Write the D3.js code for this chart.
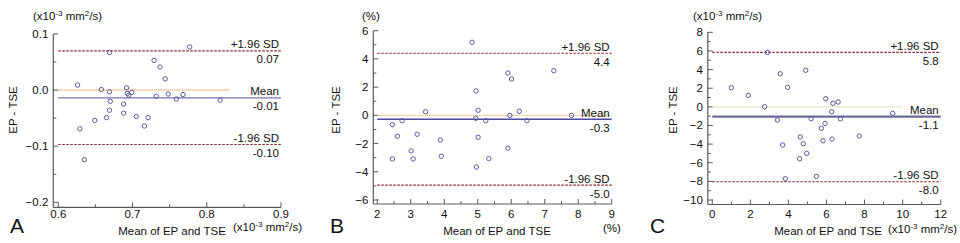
<!DOCTYPE html>
<html>
<head>
<meta charset="utf-8">
<script src="https://cdn.jsdelivr.net/npm/d3@7"></script>
<style>
  body { margin: 0; background: #fff; }
  svg { display: block; font-family: "Liberation Sans", Arial, sans-serif; }
</style>
</head>
<body>
<div id="chart"></div>
<script>
// Panel A: ADC (x10^-3 mm2/s)
const aMean = [0.669, 0.777, 0.729, 0.737, 0.744, 0.626, 0.658, 0.669, 0.692, 0.693, 0.695, 0.699, 0.732, 0.748,
  0.759, 0.768, 0.818, 0.670, 0.688, 0.669, 0.688, 0.665, 0.649, 0.705, 0.721, 0.716, 0.629, 0.635];
const aDiff = [0.067, 0.077, 0.053, 0.041, 0.020, 0.009, 0.001, -0.003, 0.004, -0.006, -0.009, -0.004, -0.011, -0.007,
  -0.016, -0.008, -0.018, -0.020, -0.025, -0.036, -0.041, -0.049, -0.054, -0.047, -0.049, -0.064, -0.069, -0.124];
const aLines = [0.070, -0.0137, -0.097];          // +1.96 SD, mean, -1.96 SD
const aLineLabels = ["0.07", "-0.01", "-0.10"];
const aXTicks = [0.6, 0.7, 0.8, 0.9];
const aYTicks = [0.1, 0.0, -0.1, -0.2];

// Panel B: percentage (%)
const bMean = [4.83, 7.27, 5.90, 6.01, 4.95, 3.44, 5.01, 6.24, 7.80, 5.96, 4.94, 2.74, 5.24, 6.47, 2.45, 2.60,
  3.19, 3.88, 5.01, 5.90, 3.01, 2.45, 3.07, 3.91, 5.33, 4.96];
const bDiff = [5.18, 3.17, 3.00, 2.58, 1.73, 0.26, 0.36, 0.29, 0.0, 0.0, -0.21, -0.38, -0.38, -0.38, -0.66, -1.48,
  -1.34, -1.74, -1.55, -2.33, -2.52, -3.09, -3.09, -2.90, -3.07, -3.66];
const bLines = [4.40, -0.27, -4.95];
const bLineLabels = ["4.4", "-0.3", "-5.0"];
const bXTicks = [2, 3, 4, 5, 6, 7, 8, 9];
const bYTicks = [6, 4, 2, 0, -2, -4, -6];

// Panel C: (x10^-3 mm2/s)
const cMean = [2.89, 3.57, 4.91, 1.00, 3.96, 1.89, 2.75, 5.96, 6.61, 6.34, 6.27, 9.48, 3.42, 5.19, 6.73, 5.92,
  5.73, 4.62, 7.72, 6.29, 5.82, 4.78, 3.70, 4.96, 4.59, 5.47, 3.84];
const cDiff = [5.85, 3.55, 3.92, 2.05, 2.09, 1.23, 0.01, 0.87, 0.52, 0.38, -0.53, -0.70, -1.42, -1.28, -1.28, -1.77,
  -2.31, -3.24, -3.13, -3.46, -3.64, -3.96, -4.10, -4.99, -5.57, -7.46, -7.72];
const cLines = [5.85, -1.06, -8.04];
const cLineLabels = ["5.8", "-1.1", "-8.0"];
const cXTicks = [0, 2, 4, 6, 8, 10, 12];
const cYTicks = [8, 6, 4, 2, 0, -2, -4, -6, -8, -10];

const panels = [
  { letter: "A", xs: aMean, ys: aDiff, lines: aLines, labels: aLineLabels, xTicks: aXTicks, yTicks: aYTicks,
    xRange: [58.3, 281], yRange: [202.3, 34], fmtX: d3.format(".1f"), fmtY: d3.format(".1f"),
    zeroEnd: 0.83, zeroColor: "#f2b778", zeroWidth: 2, meanColor: "#7272b4", meanWidth: 1.3,
    unitPct: false, left: 0, off: 5, xUnitX: 233, xUnitY: 231, yUnitX: 33, titleX: 172, yTitleX: 17 },
  { letter: "B", xs: bMean, ys: bDiff, lines: bLines, labels: bLineLabels, xTicks: bXTicks, yTicks: bYTicks,
    xRange: [377.3, 611.7], yRange: [200, 30.7], fmtX: d3.format("d"), fmtY: d3.format("d"),
    zeroEnd: 9, zeroColor: "#eea56a", zeroWidth: 1.2, meanColor: "#4a4aa0", meanWidth: 1.5,
    unitPct: true, left: 320, off: 4, xUnitX: 603, xUnitY: 232, yUnitX: 362, titleX: 497, yTitleX: 340 },
  { letter: "C", xs: cMean, ys: cDiff, lines: cLines, labels: cLineLabels, xTicks: cXTicks, yTicks: cYTicks,
    xRange: [712.3, 940.7], yRange: [200, 32.3], fmtX: d3.format("d"), fmtY: d3.format("d"),
    zeroEnd: 10, zeroColor: "#d9cc8c", zeroWidth: 1.2, meanColor: "#6a6c98", meanWidth: 2.2,
    unitPct: false, left: 640, off: 4.5, xUnitX: 888, xUnitY: 233, yUnitX: 693, titleX: 828, yTitleX: 677 }
];

const svg = d3.select("#chart").append("svg")
  .attr("width", 960)
  .attr("height", 243);

const axisColor = "#5a5a5a";
const textColor = "#111";

function unitText(sel, pct) {
  if (pct) { sel.text("(%)"); return; }
  sel.append("tspan").text("(x10");
  sel.append("tspan").attr("font-size", 8).attr("dy", -4).text("-3");
  sel.append("tspan").attr("dy", 4).text(" mm");
  sel.append("tspan").attr("font-size", 8).attr("dy", -4).text("2");
  sel.append("tspan").attr("dy", 4).text("/s)");
}

panels.forEach(p => {
  const xDom = [p.xTicks[0], p.xTicks[p.xTicks.length - 1]];
  const yDom = [p.yTicks[p.yTicks.length - 1], p.yTicks[0]];
  const x = d3.scaleLinear().domain(xDom).range(p.xRange);
  const y = d3.scaleLinear().domain(yDom).range(p.yRange);
  const g = svg.append("g");

  const axX = p.xRange[0] - p.off;   // y axis line position
  const axY = p.yRange[0] + p.off;   // x axis line position

  // minor ticks halfway between majors
  const xStep = p.xTicks[1] - p.xTicks[0];
  const yStep = p.yTicks[0] - p.yTicks[1];
  const xMinor = p.xTicks.slice(0, -1).map(t => t + xStep / 2);
  const yMinor = p.yTicks.slice(1).map(t => t + yStep / 2);

  // x axis
  g.append("line").attr("x1", axX).attr("x2", p.xRange[1]).attr("y1", axY).attr("y2", axY)
    .attr("stroke", axisColor).attr("stroke-width", 1.2);
  g.selectAll(".xt").data(p.xTicks).enter().append("line")
    .attr("x1", d => x(d)).attr("x2", d => x(d)).attr("y1", axY).attr("y2", axY - 5)
    .attr("stroke", axisColor);
  g.selectAll(".xm").data(xMinor).enter().append("line")
    .attr("x1", d => x(d)).attr("x2", d => x(d)).attr("y1", axY).attr("y2", axY - 3)
    .attr("stroke", axisColor);
  g.selectAll(".xl").data(p.xTicks).enter().append("text")
    .attr("x", d => x(d)).attr("y", 218).attr("text-anchor", "middle")
    .attr("font-size", 11.5).attr("fill", textColor).text(p.fmtX);

  // y axis
  g.append("line").attr("x1", axX).attr("x2", axX).attr("y1", axY).attr("y2", p.yRange[1])
    .attr("stroke", axisColor).attr("stroke-width", 1.2);
  g.selectAll(".yt").data(p.yTicks).enter().append("line")
    .attr("x1", axX).attr("x2", axX + 5).attr("y1", d => y(d)).attr("y2", d => y(d))
    .attr("stroke", axisColor);
  g.selectAll(".ym").data(yMinor).enter().append("line")
    .attr("x1", axX).attr("x2", axX + 3).attr("y1", d => y(d)).attr("y2", d => y(d))
    .attr("stroke", axisColor);
  g.selectAll(".yl").data(p.yTicks).enter().append("text")
    .attr("x", axX - 5).attr("y", d => y(d) + 4).attr("text-anchor", "end")
    .attr("font-size", 11.5).attr("fill", textColor).text(p.fmtY);

  // zero reference line
  g.append("line").attr("x1", x(xDom[0])).attr("x2", x(p.zeroEnd)).attr("y1", y(0)).attr("y2", y(0))
    .attr("stroke", p.zeroColor).attr("stroke-width", p.zeroWidth).attr("stroke-dasharray", "1,1");

  // limits of agreement
  [p.lines[0], p.lines[2]].forEach(v => {
    g.append("line").attr("x1", x(xDom[0])).attr("x2", x(xDom[1])).attr("y1", y(v)).attr("y2", y(v))
      .attr("stroke", "#8e2230").attr("stroke-width", 1.2).attr("stroke-dasharray", "2.5,1.5");
  });
  // mean line
  g.append("line").attr("x1", x(xDom[0])).attr("x2", x(xDom[1])).attr("y1", y(p.lines[1])).attr("y2", y(p.lines[1]))
    .attr("stroke", p.meanColor).attr("stroke-width", p.meanWidth);

  // line labels
  const names = ["+1.96 SD", "Mean", "-1.96 SD"];
  p.lines.forEach((v, i) => {
    g.append("text").attr("x", x(xDom[1]) - 2).attr("y", y(v) - 2.5).attr("text-anchor", "end")
      .attr("font-size", 11.5).attr("fill", textColor).text(names[i]);
    g.append("text").attr("x", x(xDom[1]) - 2).attr("y", y(v) + 12.5).attr("text-anchor", "end")
      .attr("font-size", 11.5).attr("fill", textColor).text(p.labels[i]);
  });

  // points
  g.selectAll("circle").data(p.xs).enter().append("circle")
    .attr("cx", d => x(d)).attr("cy", (d, i) => y(p.ys[i])).attr("r", 2.2)
    .attr("fill", "none").attr("stroke", "#5c5c9c").attr("stroke-width", 1);

  // titles
  g.append("text").attr("transform", `translate(${p.yTitleX},110) rotate(-90)`)
    .attr("text-anchor", "middle").attr("font-size", 11.5).attr("fill", textColor).text("EP - TSE");
  g.append("text").attr("x", p.titleX).attr("y", 235).attr("text-anchor", "middle")
    .attr("font-size", 11.5).attr("fill", textColor).text("Mean of EP and TSE");
  g.append("text").attr("x", p.yUnitX).attr("y", 19.5).attr("font-size", 11.5).attr("fill", textColor)
    .call(unitText, p.unitPct);
  g.append("text").attr("x", p.xUnitX).attr("y", p.xUnitY).attr("font-size", 11.5).attr("fill", textColor)
    .call(unitText, p.unitPct);
  g.append("text").attr("x", p.left + 10).attr("y", 233).attr("font-size", 21).attr("fill", textColor)
    .text(p.letter);
});
</script>
</body>
</html>
